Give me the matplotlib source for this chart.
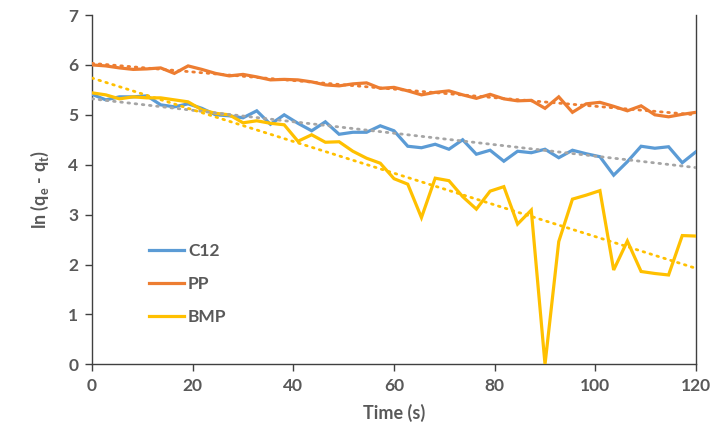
import numpy as np
import matplotlib
matplotlib.use("Agg")
import matplotlib.pyplot as plt

# sampling times (s)
time_s = [0, 2.73, 5.45, 8.18, 10.91, 13.64, 16.36, 19.09, 21.82, 24.55, 27.27,
          30.0, 32.73, 35.45, 38.18, 40.91, 43.64, 46.36, 49.09, 51.82, 54.55, 57.27,
          60.0, 62.73, 65.45, 68.18, 70.91, 73.64, 76.36, 79.09, 81.82, 84.55, 87.27,
          90.0, 92.73, 95.45, 98.18, 100.91, 103.64, 106.36, 109.09, 111.82, 114.55,
          117.27, 120.0]

c12 = [5.41, 5.30, 5.36, 5.36, 5.38, 5.20, 5.16, 5.22, 5.13, 5.00, 4.98,
       4.94, 5.08, 4.81, 5.00, 4.83, 4.68, 4.86, 4.61, 4.65, 4.65, 4.78,
       4.68, 4.37, 4.34, 4.41, 4.31, 4.50, 4.21, 4.29, 4.07, 4.27, 4.24,
       4.31, 4.14, 4.29, 4.22, 4.16, 3.79, 4.06, 4.37, 4.33, 4.36, 4.04, 4.26]

pp = [6.00, 5.98, 5.94, 5.91, 5.92, 5.94, 5.83, 5.98, 5.91, 5.83, 5.78,
      5.81, 5.76, 5.70, 5.71, 5.70, 5.66, 5.60, 5.58, 5.62, 5.64, 5.53,
      5.55, 5.48, 5.40, 5.45, 5.48, 5.40, 5.33, 5.41, 5.32, 5.28, 5.29,
      5.13, 5.36, 5.05, 5.22, 5.25, 5.17, 5.08, 5.18, 5.00, 4.96, 5.01, 5.05]

bmp = [5.44, 5.40, 5.32, 5.36, 5.34, 5.34, 5.30, 5.26, 5.10, 5.03, 5.00,
       4.84, 4.88, 4.83, 4.80, 4.47, 4.60, 4.45, 4.46, 4.27, 4.13, 4.03,
       3.72, 3.61, 2.94, 3.73, 3.68, 3.36, 3.11, 3.47, 3.56, 2.81, 3.09,
       0.00, 2.46, 3.31, 3.39, 3.48, 1.89, 2.47, 1.86, 1.82, 1.79, 2.58, 2.57]

series = [("C12", c12, "#5B9BD5", "#A5A5A5"),
          ("PP", pp, "#ED7D31", "#ED7D31"),
          ("BMP", bmp, "#FFC000", "#FFC000")]

plt.rcParams["font.family"] = ["Lato", "DejaVu Sans"]
plt.rcParams["mathtext.fontset"] = "custom"
plt.rcParams["mathtext.rm"] = "Lato:bold"
plt.rcParams["mathtext.bf"] = "Lato:bold"

txt = "#595959"
axc = "#404040"

fig = plt.figure(figsize=(7.10, 4.34), dpi=100)
ax = fig.add_axes([0.1296, 0.1606, 0.8507, 0.8048])

t = np.array(time_s)
for name, vals, col, tcol in series:
    ax.plot(t, vals, color=col, lw=2.3, label=name, solid_joinstyle="miter", zorder=3)

# linear trendlines
for name, vals, col, tcol in series:
    k, b = np.polyfit(t, vals, 1)
    xs = np.array([0, 120])
    ax.plot(xs, k * xs + b, color=tcol, lw=2.0, linestyle=(0, (0.6, 2.0)),
            dash_capstyle="round", zorder=4)

ax.set_xlim(0, 120)
ax.set_ylim(0, 7)
ax.set_xticks(range(0, 121, 20))
ax.set_yticks(range(0, 8))

ax.spines["top"].set_visible(False)
for s in ["left", "bottom", "right"]:
    ax.spines[s].set_color(axc)
    ax.spines[s].set_linewidth(1.0)

ax.tick_params(axis="both", direction="out", length=5, width=1, color=axc,
               labelcolor=txt, labelsize=12.5, pad=5)
for lab in ax.get_xticklabels() + ax.get_yticklabels():
    lab.set_fontweight("bold")

ax.set_xlabel("Time (s)", fontsize=13, fontweight="bold", color=txt, labelpad=7)
ax.set_ylabel(r"ln (q$_\mathrm{e}$ - q$_\mathrm{t}$)", fontsize=13, fontweight="bold",
              color=txt, labelpad=12)

leg = ax.legend(loc="upper left", bbox_to_anchor=(0.080, 0.371), frameon=False,
                fontsize=12.5, labelspacing=0.98, handlelength=2.0, handletextpad=0.25,
                borderpad=0)
for tx in leg.get_texts():
    tx.set_color(txt)
    tx.set_fontweight("bold")

fig.savefig("out.png", dpi=100)
